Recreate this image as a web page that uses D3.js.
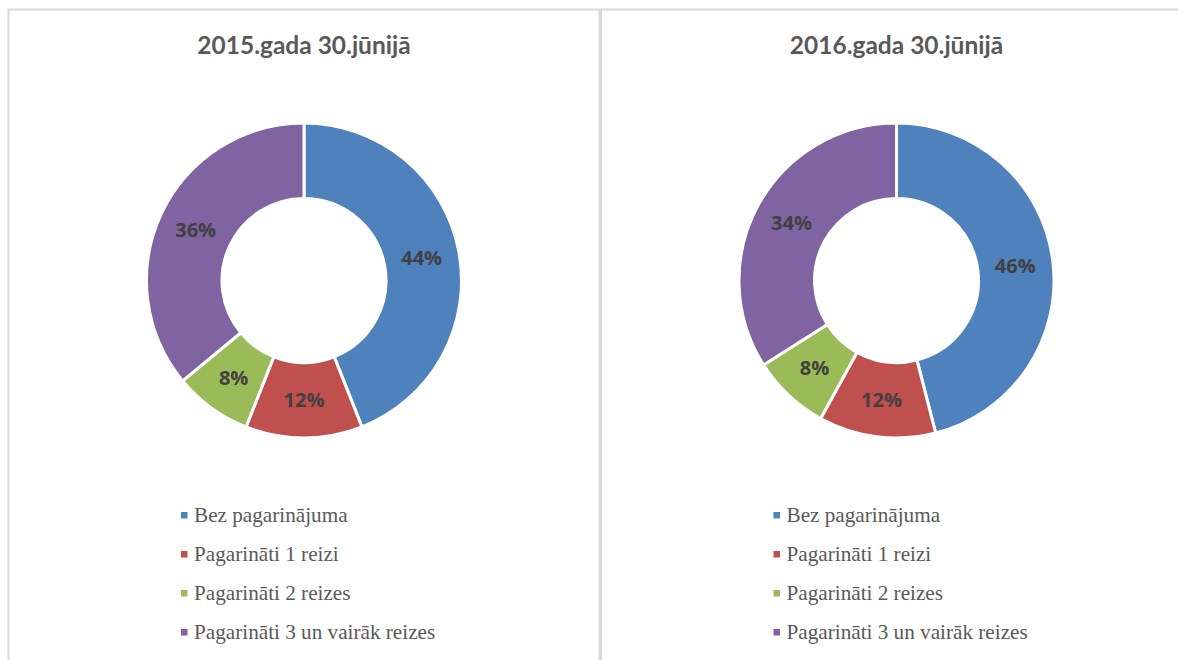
<!DOCTYPE html>
<html>
<head>
<meta charset="utf-8">
<script src="https://cdn.jsdelivr.net/npm/d3@7"></script>
<style>
    body { margin: 0; background: #fff; }
    svg { display: block; }
</style>
</head>
<body>
<svg id="chart" width="1178" height="660"></svg>
<script>
// chart data
const categories = ["Bez pagarinājuma", "Pagarināti 1 reizi", "Pagarināti 2 reizes", "Pagarināti 3 un vairāk reizes"];
const titles = ["2015.gada 30.jūnijā", "2016.gada 30.jūnijā"];
const values2015 = [44, 12, 8, 36];
const values2016 = [46, 12, 8, 34];
const colors = ["#4F81BD", "#C0504D", "#9BBB59", "#8064A2"];

let svg = d3.select("#chart");

let panelW = 591;
let panels = [
    { title: titles[0], values: values2015, x: 8.5 },
    { title: titles[1], values: values2016, x: 601 }
];

let pie = d3.pie().sort(null).value(d => d);
let outerR = 157.5;
let innerR = 82;
let arc = d3.arc().innerRadius(innerR).outerRadius(outerR);
let labelArc = d3.arc().innerRadius((innerR + outerR) / 2).outerRadius((innerR + outerR) / 2);

let color = d3.scaleOrdinal().domain(categories).range(colors);

panels.forEach(p => {
    let g = svg.append("g").attr("transform", `translate(${p.x},0)`);

    // panel border
    g.append("rect")
        .attr("x", 0)
        .attr("y", 9.5)
        .attr("width", panelW)
        .attr("height", 700)
        .attr("fill", "none")
        .attr("stroke", "#d9d9d9")
        .attr("stroke-width", 2);

    let cx = panelW / 2;

    g.append("text")
        .attr("x", cx)
        .attr("y", 54)
        .attr("text-anchor", "middle")
        .style("font-family", "Lato, 'Open Sans', sans-serif")
        .style("font-weight", "bold")
        .style("font-size", "24.5px")
        .attr("fill", "#595959")
        .text(p.title);

    let donut = g.append("g").attr("transform", `translate(${cx},280.5)`);
    let slices = pie(p.values);

    donut.selectAll("path")
        .data(slices)
        .enter()
        .append("path")
        .attr("d", arc)
        .attr("fill", (d, i) => color(categories[i]))
        .attr("stroke", "#fff")
        .attr("stroke-width", 3);

    donut.selectAll("text")
        .data(slices)
        .enter()
        .append("text")
        .attr("transform", d => `translate(${labelArc.centroid(d)})`)
        .attr("text-anchor", "middle")
        .attr("dy", "0.36em")
        .style("font-family", "'Open Sans', sans-serif")
        .style("font-weight", "bold")
        .style("font-size", "20px")
        .attr("fill", "#404040")
        .text(d => d.data + "%");

    // legend
    let legend = g.selectAll("g.legendItem")
        .data(categories)
        .enter()
        .append("g")
        .attr("class", "legendItem")
        .attr("transform", (d, i) => `translate(${cx - 123},${522 + i * 39})`);

    legend.append("rect")
        .attr("x", 0)
        .attr("y", -10)
        .attr("width", 6.5)
        .attr("height", 6.5)
        .attr("fill", d => color(d));

    legend.append("text")
        .attr("x", 13)
        .attr("y", 0)
        .style("font-family", "'Liberation Serif', 'Times New Roman', serif")
        .style("font-size", "21.2px")
        .attr("fill", "#595959")
        .text(d => d);
});
</script>
</body>
</html>
